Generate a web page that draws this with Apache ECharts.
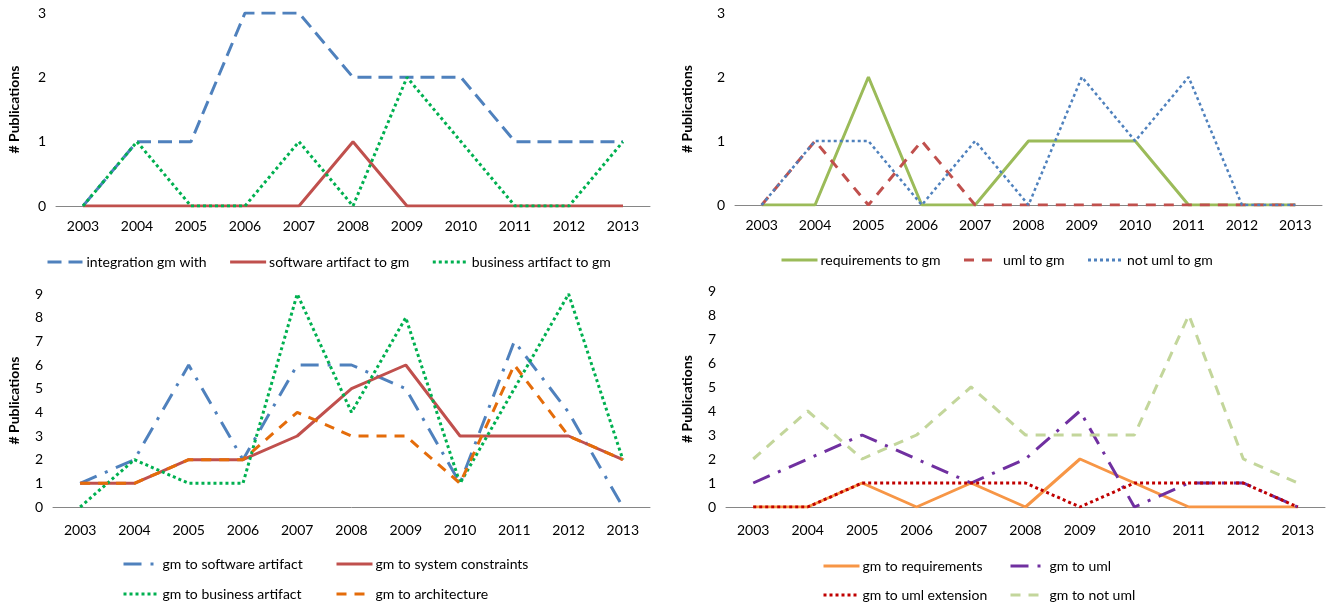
<!DOCTYPE html>
<html><head><meta charset="utf-8">
<script src="https://cdn.jsdelivr.net/npm/echarts@6/dist/echarts.min.js"></script>
<style>html,body{margin:0;padding:0;background:#fff}#c{width:1326px;height:603px}</style>
</head><body><div id="c"></div>
<script>
const years = ['2003','2004','2005','2006','2007','2008','2009','2010','2011','2012','2013'];
// Panel A (top-left)
const integrationGmWith = [0,1,1,3,3,2,2,2,1,1,1];
const softwareArtifactToGm = [0,0,0,0,0,1,0,0,0,0,0];
const businessArtifactToGm = [0,1,0,0,1,0,2,1,0,0,1];
// Panel B (top-right)
const requirementsToGm = [0,0,2,0,0,1,1,1,0,0,0];
const umlToGm = [0,1,0,1,0,0,0,0,0,0,0];
const notUmlToGm = [0,1,1,0,1,0,2,1,2,0,0];
// Panel C (bottom-left)
const gmToSoftwareArtifact = [1,2,6,2,6,6,5,1,7,4,0];
const gmToSystemConstraints = [1,1,2,2,3,5,6,3,3,3,2];
const gmToBusinessArtifact = [0,2,1,1,9,4,8,1,5,9,2];
const gmToArchitecture = [1,1,2,2,4,3,3,1,6,3,2];
// Panel D (bottom-right)
const gmToRequirements = [0,0,1,0,1,0,2,1,0,0,0];
const gmToUml = [1,2,3,2,1,2,4,0,1,1,0];
const gmToUmlExtension = [0,0,1,1,1,1,0,1,1,1,0];
const gmToNotUml = [2,4,2,3,5,3,3,3,8,2,1];
const yTicksTop = [0,1,2,3];
const yTicksBottom = [0,1,2,3,4,5,6,7,8,9];

const FONT = 'Lato';
const FS = 14;
const grids = [
  {left:56, right:676, top:13, bottom:397},
  {left:735, right:4, top:13, bottom:398},
  {left:53, right:676, top:294, bottom:96},
  {left:726, right:1, top:291, bottom:96}
];
const yMax = [yTicksTop[yTicksTop.length-1], yTicksTop[yTicksTop.length-1], yTicksBottom[yTicksBottom.length-1], yTicksBottom[yTicksBottom.length-1]];
const nameGaps = [35, 41, 32, 32];
const xMargins = [13, 13, 16, 16];

const xAxis = grids.map((g,i)=>({
  type:'category', gridIndex:i, data:years, boundaryGap:true,
  axisLine:{lineStyle:{color:'#868686', width:1}},
  axisTick:{show:false},
  axisLabel:{color:'#000', fontFamily:FONT, fontSize:FS, margin:xMargins[i]}
}));
const yAxis = grids.map((g,i)=>({
  type:'value', gridIndex:i, min:0, max:yMax[i], interval:1,
  splitLine:{show:false}, axisLine:{show:false}, axisTick:{show:false},
  axisLabel:{color:'#000', fontFamily:FONT, fontSize:FS, margin:10},
  name:'# Publications', nameLocation:'middle', nameRotate:90, nameGap:nameGaps[i],
  nameTextStyle:{color:'#000', fontFamily:FONT, fontSize:14, fontWeight:'bold'}
}));

function s(name, data, idx, color, type, width){
  return {name, type:'line', data, xAxisIndex:idx, yAxisIndex:idx, symbol:'none', showSymbol:false,
    lineStyle:{color, width: width||3, type: type||'solid', cap:'butt'}, itemStyle:{color},
    animation:false};
}
const LONGDASH = [14,7];
const DASH = [10,8];
const DOT = [3,3];
const LONGDASHDOT = [18,9,3,9];

const series = [
  s('integration gm with', integrationGmWith, 0, '#4F81BD', LONGDASH),
  s('software artifact to gm', softwareArtifactToGm, 0, '#C0504D'),
  s('business artifact to gm', businessArtifactToGm, 0, '#00B050', DOT),
  s('requirements to gm', requirementsToGm, 1, '#9BBB59'),
  s('uml to gm', umlToGm, 1, '#C0504D', DASH),
  s('not uml to gm', notUmlToGm, 1, '#4F81BD', DOT, 2.5),
  s('gm to software artifact', gmToSoftwareArtifact, 2, '#4F81BD', LONGDASHDOT),
  s('gm to system constraints', gmToSystemConstraints, 2, '#C0504D'),
  s('gm to business artifact', gmToBusinessArtifact, 2, '#00B050', DOT),
  s('gm to architecture', gmToArchitecture, 2, '#E46C0A', DASH),
  s('gm to requirements', gmToRequirements, 3, '#F79646'),
  s('gm to uml', gmToUml, 3, '#7030A0', LONGDASHDOT),
  s('gm to uml extension', gmToUmlExtension, 3, '#C00000', DOT),
  s('gm to not uml', gmToNotUml, 3, '#C3D69B', DASH)
];

const legBase = {orient:'horizontal', itemWidth:36, itemHeight:12, itemGap:22, selectedMode:false,
  itemStyle:{opacity:0, borderWidth:0},
  lineStyle:{width:3},
  textStyle:{color:'#000', fontFamily:FONT, fontSize:FS, padding:[0,0,0,-2]}};
function leg(names, left, y){ return Object.assign({}, legBase, {data:names, left, top:y-8}); }
const legend = [
  leg(['integration gm with','software artifact to gm','business artifact to gm'], 41, 258),
  leg(['requirements to gm','uml to gm','not uml to gm'], 775, 256),
  leg(['gm to software artifact'], 117, 560),
  leg(['gm to system constraints'], 330, 560),
  leg(['gm to business artifact'], 117, 590),
  leg(['gm to architecture'], 330, 590),
  leg(['gm to requirements'], 817, 562),
  leg(['gm to uml'], 1004, 562),
  leg(['gm to uml extension'], 817, 591),
  leg(['gm to not uml'], 1004, 591)
];

const chart = echarts.init(document.getElementById('c'), null, {renderer:'canvas'});
chart.setOption({backgroundColor:'#fff', animation:false, grid:grids, xAxis, yAxis, series, legend});
</script></body></html>
